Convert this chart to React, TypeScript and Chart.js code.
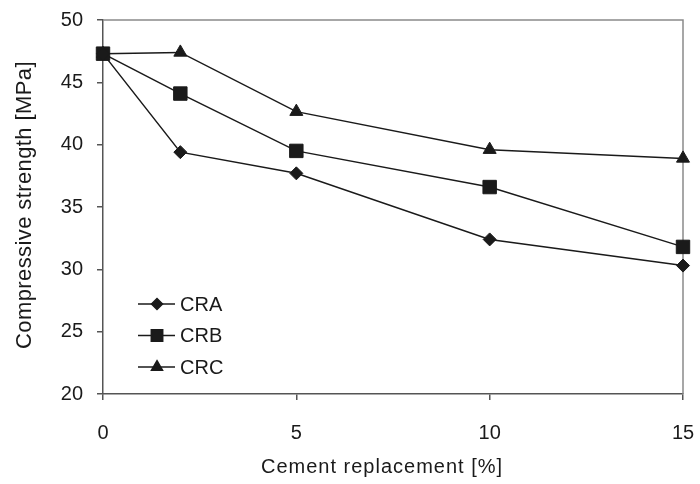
import React, { useEffect, useRef } from "react";
import { Chart, registerables } from "chart.js";
import { drawPoint } from "chart.js/helpers";

Chart.register(...registerables);

const xValues = [0, 2, 5, 10, 15];
const craValues = [47.3, 39.4, 37.7, 32.4, 30.3];
const crbValues = [47.3, 44.1, 39.5, 36.6, 31.8];
const crcValues = [47.3, 47.4, 42.65, 39.6, 38.9];
const seriesNames = ["CRA", "CRB", "CRC"];
const seriesStyles = ["rectRot", "rect", "triangle"];
const seriesRadii = [6.5, 9.5, 7.5];
const yTicks = [20, 25, 30, 35, 40, 45, 50];
const xTicks = [0, 5, 10, 15];
const xTitle = "Cement replacement [%]";
const yTitle = "Compressive strength [MPa]";

const FONT = "'Liberation Sans', Arial, sans-serif";
const INK = "#1a1a1a";

const framePlugin = {
  id: "frame",
  beforeDatasetsDraw(chart: any) {
    const { ctx, chartArea } = chart;
    ctx.save();
    ctx.strokeStyle = "#8a8a8a";
    ctx.lineWidth = 1.5;
    ctx.beginPath();
    ctx.moveTo(chartArea.left, chartArea.top);
    ctx.lineTo(chartArea.right, chartArea.top);
    ctx.lineTo(chartArea.right, chartArea.bottom);
    ctx.stroke();
    ctx.restore();
  },
};

const titlePlugin = {
  id: "axisTitles",
  afterDraw(chart: any) {
    const { ctx, chartArea } = chart;
    ctx.save();
    ctx.fillStyle = INK;
    ctx.textAlign = "center";
    ctx.textBaseline = "middle";
    (ctx as any).letterSpacing = "1px";
    ctx.font = `20px ${FONT}`;
    ctx.fillText(xTitle, (chartArea.left + chartArea.right) / 2 - 11, chartArea.bottom + 73);
    (ctx as any).letterSpacing = "0.4px";
    ctx.font = `22px ${FONT}`;
    ctx.translate(25, (chartArea.top + chartArea.bottom) / 2 - 2);
    ctx.rotate(-Math.PI / 2);
    ctx.fillText(yTitle, 0, 0);
    ctx.restore();
  },
};

const legendPlugin = {
  id: "innerLegend",
  afterDraw(chart: any) {
    const { ctx, chartArea } = chart;
    ctx.save();
    const x0 = chartArea.left + 35;
    const y0 = chartArea.top + 284;
    seriesNames.forEach((name, i) => {
      const y = y0 + i * 31.5;
      ctx.strokeStyle = INK;
      ctx.lineWidth = 1.5;
      ctx.beginPath();
      ctx.moveTo(x0, y);
      ctx.lineTo(x0 + 37, y);
      ctx.stroke();
      ctx.fillStyle = INK;
      drawPoint(ctx, {
        pointStyle: seriesStyles[i],
        radius: seriesRadii[i] * 0.85,
        rotation: 0,
        borderWidth: 1,
      } as any, x0 + 19, y);
      ctx.fillStyle = INK;
      ctx.font = `20px ${FONT}`;
      ctx.textBaseline = "middle";
      ctx.textAlign = "left";
      ctx.fillText(name, x0 + 42, y + 1);
    });
    ctx.restore();
  },
};

const zeroPad = (s: any) => {
  s.paddingTop = 0;
  s.paddingBottom = 0;
  s.paddingLeft = 0;
  s.paddingRight = 0;
};

export default function App() {
  const ref = useRef<HTMLCanvasElement>(null);
  useEffect(() => {
    if (!ref.current) return;
    const series = [craValues, crbValues, crcValues];
    const chart = new Chart(ref.current, {
      type: "line",
      data: {
        datasets: series.map((vals, i) => ({
          label: seriesNames[i],
          data: xValues.map((x, j) => ({ x, y: vals[j] })),
          borderColor: INK,
          borderWidth: 1.5,
          backgroundColor: INK,
          pointBackgroundColor: INK,
          pointBorderColor: INK,
          pointBorderWidth: 1,
          pointStyle: seriesStyles[i] as any,
          pointRadius: seriesRadii[i],
          tension: 0,
          clip: false as any,
        })),
      },
      options: {
        animation: false,
        responsive: false,
        maintainAspectRatio: false,
        layout: { padding: { top: 20, right: 17, left: 0, bottom: 0 } },
        plugins: { legend: { display: false }, tooltip: { enabled: false } },
        scales: {
          x: {
            type: "linear",
            min: 0,
            max: 15,
            afterBuildTicks: (s: any) => {
              s.ticks = xTicks.map((v) => ({ value: v }));
            },
            afterFit: (s: any) => {
              s.height = 90;
              zeroPad(s);
            },
            grid: {
              drawOnChartArea: false,
              drawTicks: true,
              tickLength: 6,
              color: "#555",
              lineWidth: 1.5,
            },
            border: { display: true, color: "#555", width: 1.5 },
            ticks: {
              color: INK,
              font: { family: FONT, size: 20 },
              padding: 21,
              maxRotation: 0,
            },
            title: { display: false },
          },
          y: {
            type: "linear",
            min: 20,
            max: 50,
            afterBuildTicks: (s: any) => {
              s.ticks = yTicks.map((v) => ({ value: v }));
            },
            afterFit: (s: any) => {
              s.width = 103;
              zeroPad(s);
            },
            grid: {
              drawOnChartArea: false,
              drawTicks: true,
              tickLength: 6,
              color: "#555",
              lineWidth: 1.5,
            },
            border: { display: true, color: "#555", width: 1.5 },
            ticks: {
              color: INK,
              font: { family: FONT, size: 20 },
              padding: 14,
            },
            title: { display: false },
          },
        },
      },
      plugins: [framePlugin, legendPlugin, titlePlugin],
    });
    return () => chart.destroy();
  }, []);
  return (
    <div style={{ position: "fixed", left: 0, top: 0, width: 700, height: 484, background: "#fff" }}>
      <canvas ref={ref} width={700} height={484} style={{ width: 700, height: 484 }} />
    </div>
  );
}
